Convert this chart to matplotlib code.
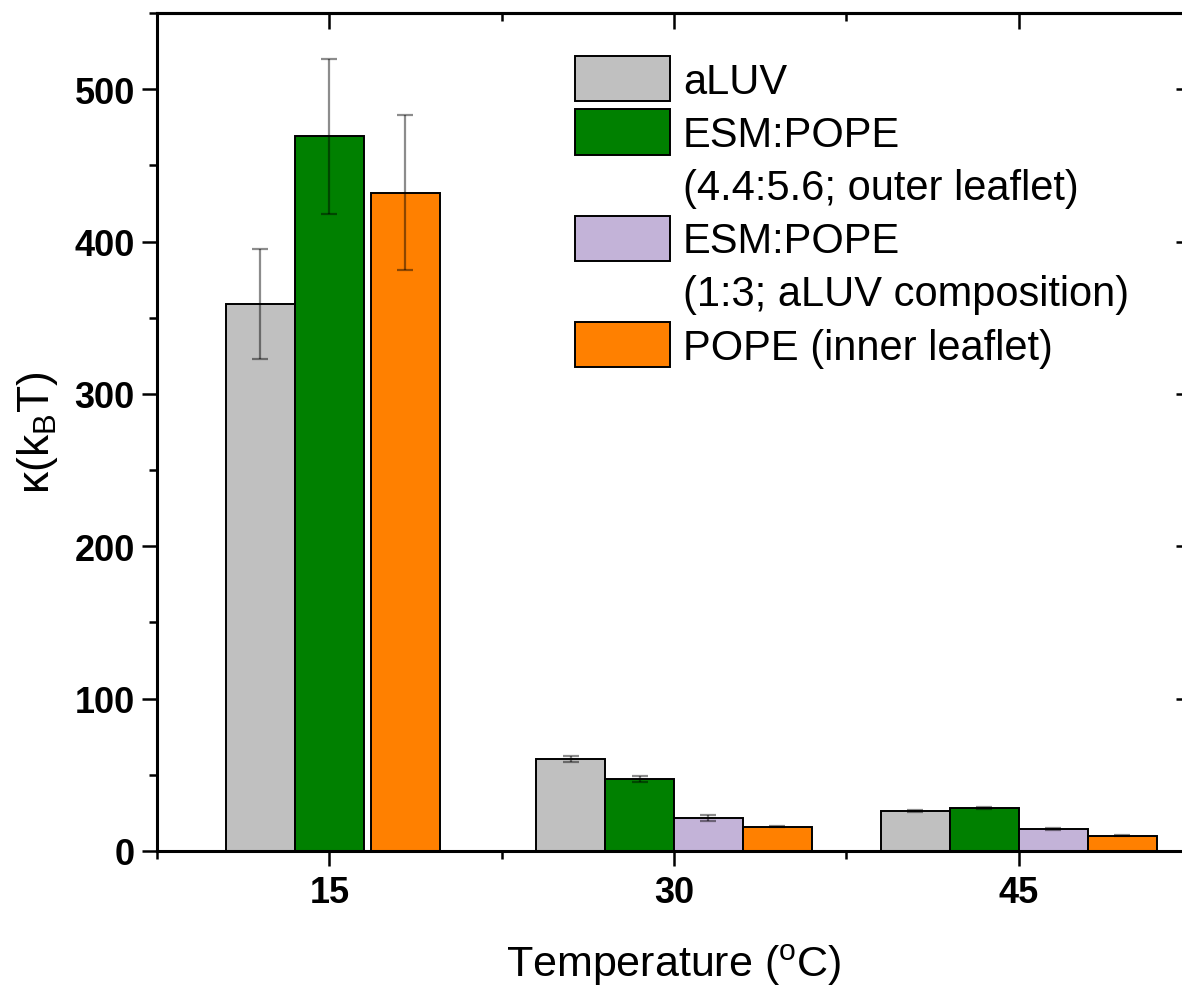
import numpy as np
import matplotlib.pyplot as plt
from matplotlib.patches import Patch

plt.rcParams['font.family'] = ['Liberation Sans', 'DejaVu Sans']
plt.rcParams['mathtext.fontset'] = 'custom'
plt.rcParams['mathtext.rm'] = 'Liberation Sans'

# %% data
temps = [15, 30, 45]

aluv = [359, 60.5, 26.2]
aluv_err = [36, 2.0, 0.6]
esm_outer = [469, 47.4, 28.2]
esm_outer_err = [51, 2.0, 0.6]
esm_aluv = [np.nan, 21.9, 14.7]
esm_aluv_err = [np.nan, 2.0, 0.6]
pope = [432, 16.0, 10.1]
pope_err = [51, 0.5, 0.4]

names = ['aLUV', 'ESM:POPE', 'ESM:POPE', 'POPE (inner leaflet)']
subnames = [None, '(4.4:5.6; outer leaflet)', '(1:3; aLUV composition)', None]
colors = ['#C0C0C0', '#008000', '#C3B3D8', '#FF8000']

series = [aluv, esm_outer, esm_aluv, pope]
errors = [aluv_err, esm_outer_err, esm_aluv_err, pope_err]

# %% bar positions: missing series collapse to a small gap
w = 3
gap = 0.3
pos = np.full((len(series), len(temps)), np.nan)
for j, t in enumerate(temps):
    present = [i for i in range(len(series)) if not np.isnan(series[i][j])]
    x = t - (len(present) - 1) / 2 * w
    prev = None
    for i in present:
        if prev is not None and i - prev > 1:
            x += gap
        pos[i, j] = x
        x += w
        prev = i

# %% plot
fig = plt.figure(figsize=(11.82, 9.87), dpi=100)
ax = fig.add_axes([157/1182, 1-852/987, (1191-157)/1182, (852-14)/987])

for i in range(len(series)):
    ax.bar(pos[i], series[i], width=w, color=colors[i], edgecolor='black',
           linewidth=1.4, zorder=2)
    ax.errorbar(pos[i], series[i], yerr=errors[i], fmt='none', ecolor='black',
                alpha=0.45, elinewidth=1.6, capsize=6, capthick=1.6, zorder=3)

ax.set_xlim(7.5, 52.5)
ax.set_ylim(0, 550)
ax.set_xticks(temps)
ax.set_xticks([7.5, 22.5, 37.5, 52.5], minor=True)
ax.set_yticks(range(0, 501, 100))
ax.set_yticks(range(50, 551, 100), minor=True)

ax.tick_params(which='major', direction='out', length=11, width=1.8, labelsize=26)
ax.tick_params(axis='y', pad=5)
ax.tick_params(axis='x', pad=6)
ax.tick_params(which='minor', direction='out', length=5.5, width=1.8)
for lab in ax.get_xticklabels() + ax.get_yticklabels():
    lab.set_fontweight('bold')
for s in ax.spines.values():
    s.set_linewidth(2.2)

# inward ticks on top and right
top = ax.secondary_xaxis('top')
top.set_xticks(temps)
top.set_xticks([7.5, 22.5, 37.5, 52.5], minor=True)
top.set_xticklabels([])
top.tick_params(which='major', direction='in', length=11.5, width=1.8)
top.tick_params(which='minor', direction='in', length=5.5, width=1.8)
top.spines['top'].set_linewidth(2.2)
right = ax.secondary_yaxis('right')
right.set_yticks(range(0, 501, 100))
right.set_yticks(range(50, 551, 100), minor=True)
right.set_yticklabels([])
right.tick_params(which='major', direction='in', length=11, width=1.8)
right.tick_params(which='minor', direction='in', length=5.5, width=1.8)

ax.set_xlabel('Temperature ($^{\\mathrm{o}}$C)', fontsize=31, labelpad=23)
ax.set_ylabel('κ(k$_{\\mathrm{B}}$T)', fontsize=32)
ax.yaxis.set_label_coords(-0.094, 0.5)

# legend with two-line entries done as extra rows without a handle
handles, texts = [], []
for i in range(len(names)):
    handles.append(Patch(facecolor=colors[i], edgecolor='black', linewidth=1.4))
    texts.append(names[i])
    if subnames[i]:
        handles.append(Patch(facecolor='none', edgecolor='none'))
        texts.append(subnames[i])
fig.legend(handles, texts, loc='upper left', bbox_to_anchor=(575/1182, 1-57/987),
           frameon=False, borderpad=0, borderaxespad=0, fontsize=30,
           handlelength=2.28, handleheight=1.3, handletextpad=0.31, labelspacing=0.18)

fig.savefig('out.png', dpi=100)
